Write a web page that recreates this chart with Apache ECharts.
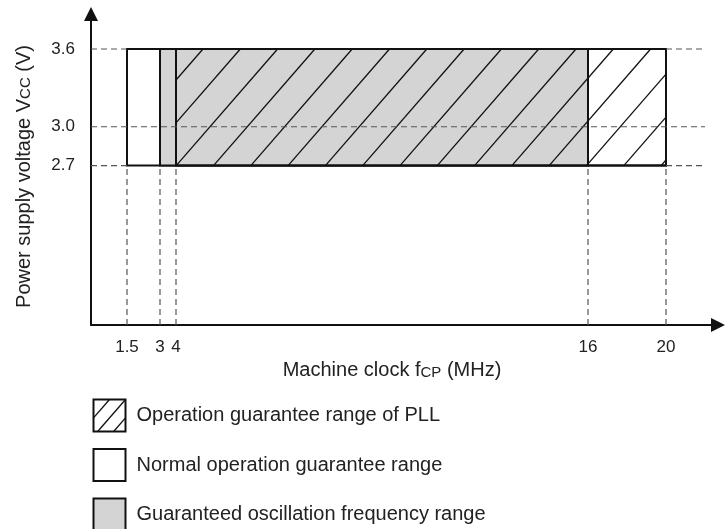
<!DOCTYPE html>
<html>
<head>
<meta charset="utf-8">
<script src="https://cdn.jsdelivr.net/npm/echarts@6/dist/echarts.min.js"></script>
<style>
html, body { margin: 0; padding: 0; background: #fff; }
#chart { width: 725px; height: 529px; }
</style>
</head>
<body>
<div id="chart"></div>
<script>
// machine clock ticks (MHz) and where each sits on the drawn axis (the figure is not to scale)
const freqTicks = [1.5, 3, 4, 16, 20];
const freqPos = [36, 69, 85, 497, 575];
// supply voltage ticks (V)
const voltTicks = [2.7, 3.0, 3.6];
const vccRange = [2.7, 3.6];
// frequency spans of the three areas
const normalRange = [1.5, 20];
const oscRange = [3, 16];
const pllRange = [4, 20];
const legendLabels = [
    'Operation guarantee range of PLL',
    'Normal operation guarantee range',
    'Guaranteed oscillation frequency range'
];

const FONT = "'Liberation Sans', Arial, Helvetica, sans-serif";
const X_MAX = 627, Y_MIN = 1.47, Y_MAX = 3.87, GUIDE_END = 614;

function posOf(f) {
    return freqPos[freqTicks.indexOf(f)];
}

// diagonal "/" hatch clipped to a box
function hatch(x0, y0, x1, y1, phase, sp, slope, style) {
    let h = y1 - y0, els = [];
    for (let t = x0 + phase - Math.ceil(phase / sp) * sp; t < x1 + h / slope; t += sp) {
        if (t <= x0) continue;
        let ax = t, ay = y0;
        if (ax > x1) { ay = y0 + (ax - x1) * slope; ax = x1; }
        let bx = t - h / slope, by = y1;
        if (bx < x0) { by = y0 + (t - x0) * slope; bx = x0; }
        els.push({type: 'line', shape: {x1: ax, y1: ay, x2: bx, y2: by}, style: style});
    }
    return els;
}

function boxOf(api) {
    let a = api.coord([api.value(0), api.value(3)]);
    let b = api.coord([api.value(1), api.value(2)]);
    return {x: a[0], y: a[1], width: b[0] - a[0], height: b[1] - a[1]};
}

function areaData(range) {
    return [[posOf(range[0]), posOf(range[1]), vccRange[0], vccRange[1]]];
}

// dashed guide lines
let guides = [];
voltTicks.forEach(function (v) {
    if (v === vccRange[0] || v === vccRange[1]) {
        guides.push([0, v, posOf(normalRange[0]), v]);
        guides.push([posOf(normalRange[1]), v, GUIDE_END, v]);
    } else {
        guides.push([0, v, GUIDE_END, v]);
    }
});
freqTicks.forEach(function (f) {
    guides.push([posOf(f), Y_MIN, posOf(f), vccRange[0]]);
});

let chart = echarts.init(document.getElementById('chart'));

let axisLine = {
    show: true,
    symbol: ['none', 'triangle'],
    symbolSize: [14, 14],
    lineStyle: {color: '#111', width: 2}
};

let nameRich = {
    n: {fontFamily: FONT, fontSize: 20, color: '#222', verticalAlign: 'bottom'},
    s: {fontFamily: FONT, fontSize: 15, color: '#222', verticalAlign: 'bottom', padding: [0, 0, 1, 0]}
};

// legend drawn as graphic boxes
let hatchStyle = {stroke: '#111', lineWidth: 1.3};
let legendChildren = [];
legendLabels.forEach(function (txt, i) {
    let top = i * 49.5, box = 32;
    let fill = i === 2 ? '#d4d4d4' : '#fff';
    legendChildren.push({type: 'rect', shape: {x: 0, y: top, width: box, height: box},
        style: {fill: fill, stroke: '#111', lineWidth: 2}});
    if (i === 0) {
        hatch(0, top, box, top + box, 16, 16, 1.15, hatchStyle).forEach(function (el) {
            legendChildren.push(el);
        });
    }
    legendChildren.push({type: 'text', x: 43, y: top + box / 2,
        style: {text: txt, font: '20px ' + FONT, fill: '#222', textVerticalAlign: 'middle'}});
});

let option = {
    animation: false,
    grid: {left: 91, right: 7, top: 14, bottom: 204, containLabel: false},
    xAxis: {
        type: 'value', min: 0, max: X_MAX,
        axisLine: axisLine,
        axisTick: {show: false},
        splitLine: {show: false},
        axisLabel: {
            customValues: freqPos,
            formatter: function (v) { return String(freqTicks[freqPos.indexOf(v)]); },
            fontFamily: FONT, fontSize: 17, color: '#222', margin: 14
        },
        name: '{n|Machine clock f}{s|CP}{n| (MHz)}',
        nameLocation: 'middle',
        nameGap: 33,
        nameTextStyle: {padding: [0, 25, 0, 0], rich: nameRich}
    },
    yAxis: {
        type: 'value', min: Y_MIN, max: Y_MAX,
        axisLine: axisLine,
        axisTick: {show: false},
        splitLine: {show: false},
        axisLabel: {
            customValues: voltTicks,
            formatter: function (v) { return v.toFixed(1); },
            fontFamily: FONT, fontSize: 17, color: '#222', margin: 16
        },
        name: '{n|Power supply voltage V}{s|CC}{n| (V)}',
        nameLocation: 'middle',
        nameGap: 57,
        nameTextStyle: {padding: [0, 14, 0, 0], rich: nameRich}
    },
    graphic: [{type: 'group', left: 91, top: 397, children: legendChildren}],
    series: [{
        name: 'normal', type: 'custom', z: 2,
        encode: {x: [0, 1], y: [2, 3]},
        data: areaData(normalRange),
        renderItem: function (params, api) {
            return {type: 'rect', shape: boxOf(api), style: {fill: '#fff', stroke: '#111', lineWidth: 2}};
        }
    }, {
        name: 'osc', type: 'custom', z: 3,
        encode: {x: [0, 1], y: [2, 3]},
        data: areaData(oscRange),
        renderItem: function (params, api) {
            return {type: 'rect', shape: boxOf(api), style: {fill: '#d4d4d4', stroke: '#111', lineWidth: 2}};
        }
    }, {
        name: 'pll', type: 'custom', z: 4,
        encode: {x: [0, 1], y: [2, 3]},
        data: areaData(pllRange),
        renderItem: function (params, api) {
            let r = boxOf(api);
            let kids = hatch(r.x, r.y, r.x + r.width, r.y + r.height, 27, 37.3, 1.15, hatchStyle);
            kids.push({type: 'rect', shape: r, style: {fill: 'none', stroke: '#111', lineWidth: 2}});
            return {type: 'group', children: kids};
        }
    }, {
        name: 'guides', type: 'custom', z: 5,
        encode: {x: [0, 2], y: [1, 3]},
        data: guides,
        renderItem: function (params, api) {
            let a = api.coord([api.value(0), api.value(1)]);
            let b = api.coord([api.value(2), api.value(3)]);
            return {type: 'line', shape: {x1: a[0], y1: a[1], x2: b[0], y2: b[1]},
                style: {stroke: '#555', lineWidth: 1.2, lineDash: [6, 4]}};
        }
    }]
};
chart.setOption(option);
</script>
</body>
</html>
